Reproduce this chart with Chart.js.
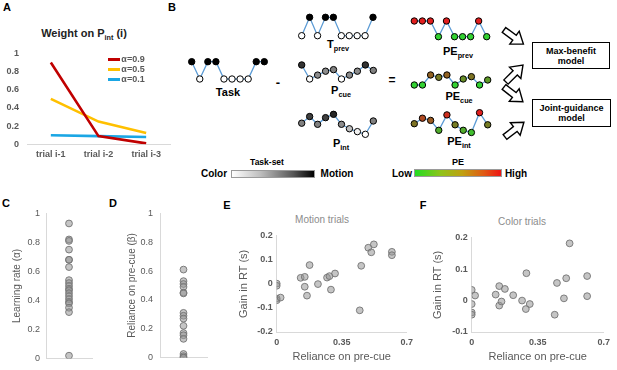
<!DOCTYPE html>
<html lang="en">
<head>
<meta charset="UTF-8">
<title>Pre-cue reliance figure</title>
<script src="https://cdn.jsdelivr.net/npm/chart.js"></script>
<style>
  body { margin: 0; background: #fff; }
  #fig { position: relative; width: 617px; height: 370px; overflow: hidden;
         font-family: "Liberation Sans", Arial, sans-serif; }
  #fig canvas, #fig svg { position: absolute; }
  .t { position: absolute; white-space: nowrap; line-height: 1; transform: translate(-50%, -50%); }
  .b { font-weight: bold; color: #000; }
  .s { font-size: 0.66em; position: relative; top: 0.35em; }
  .g { color: #595959; }
  .bar { position: absolute; height: 8px; box-sizing: border-box; border: 1px solid #9a9a9a; }
  .box { position: absolute; box-sizing: border-box; border: 1.6px solid #000; font-weight: bold;
         font-size: 9px; line-height: 10px; text-align: center; display: flex; align-items: center;
         justify-content: center; }
  .key { position: absolute; width: 12px; height: 2.6px; }
</style>
</head>
<body>
<div id="fig">
  <!-- panel letters -->
  <div class="t b" style="left:7px;top:7px;font-size:11px">A</div>
  <div class="t b" style="left:172px;top:7px;font-size:11px">B</div>
  <div class="t b" style="left:6px;top:203px;font-size:11px">C</div>
  <div class="t b" style="left:113px;top:203px;font-size:11px">D</div>
  <div class="t b" style="left:227px;top:205px;font-size:11px">E</div>
  <div class="t b" style="left:423px;top:205px;font-size:11px">F</div>

  <!-- A -->
  <div class="t b" style="left:84px;top:33px;font-size:11px;color:#222">Weight on P<span class="s">int</span> (i)</div>

  <!-- B labels -->
  <div class="t b" style="left:228px;top:92px;font-size:11px">Task</div>
  <div class="t b" style="left:278px;top:82px;font-size:13px">-</div>
  <div class="t b" style="left:338px;top:44px;font-size:11px">T<span class="s">prev</span></div>
  <div class="t b" style="left:341px;top:90px;font-size:11px">P<span class="s">cue</span></div>
  <div class="t b" style="left:341px;top:143px;font-size:11px">P<span class="s">int</span></div>
  <div class="t b" style="left:392px;top:80px;font-size:12px">=</div>
  <div class="t b" style="left:458px;top:51px;font-size:11px">PE<span class="s">prev</span></div>
  <div class="t b" style="left:459px;top:96px;font-size:11px">PE<span class="s">cue</span></div>
  <div class="t b" style="left:459px;top:141px;font-size:11px">PE<span class="s">int</span></div>

  <div class="t b" style="left:267px;top:162px;font-size:8.5px">Task-set</div>
  <div class="t b" style="left:214px;top:174px;font-size:10px">Color</div>
  <div class="bar" style="left:231px;top:170px;width:84px;background:linear-gradient(to right,#fff,#bdbdbd 35%,#555 75%,#000)"></div>
  <div class="t b" style="left:337px;top:174px;font-size:10px">Motion</div>

  <div class="t b" style="left:458px;top:162px;font-size:9px">PE</div>
  <div class="t b" style="left:402px;top:174px;font-size:10px">Low</div>
  <div class="bar" style="left:414px;top:169px;width:88px;background:linear-gradient(to right,#22dd22,#8fc31a 30%,#c0a010 55%,#e05a14 80%,#ee1414)"></div>
  <div class="t b" style="left:516px;top:174px;font-size:10px">High</div>

  <div class="box" style="left:532px;top:42px;width:78px;height:27px">Max-benefit<br>model</div>
  <div class="box" style="left:532px;top:99px;width:79px;height:28px">Joint-guidance<br>model</div>

  <svg width="617" height="370" style="left:0;top:0">
    <defs><polygon id="arr" points="0,-3 13,-3 13,-8 24,0 13,8 13,3 0,3"/></defs>
    <g fill="#fff" stroke="#000" stroke-width="1.4">
      <use href="#arr" transform="translate(504,30) rotate(36)"/>
      <use href="#arr" transform="translate(506,82) rotate(-45)"/>
      <use href="#arr" transform="translate(504,87) rotate(38)"/>
      <use href="#arr" transform="translate(505,137) rotate(-38)"/>
    </g>
  </svg>

  <!-- E / F titles -->
  <div class="t" style="left:322px;top:220px;font-size:10px;color:#8c8c8c">Motion trials</div>
  <div class="t" style="left:522px;top:222px;font-size:10px;color:#8c8c8c">Color trials</div>
</div>

<script>
// ---- panel A: weight on P_int by trial lag ----
const trialLabels = ['trial i-1', 'trial i-2', 'trial i-3'];
const alphaLabels = ['α=0.9', 'α=0.5', 'α=0.1'];
const weightA09 = [0.9, 0.09, 0.01];
const weightA05 = [0.5, 0.25, 0.125];
const weightA01 = [0.1, 0.09, 0.08];
const weightTicks = [0, 0.2, 0.4, 0.6, 0.8, 1];

// ---- panel B: bead sequences (height = value) ----
const taskSeq   = [1, 0, 1, 1, 0, 0, 0, 0, 1, 1];
const tPrevSeq  = [0, 1, 0, 1, 1, 0, 0, 0, 0, 1];
const pCueSeq   = [0.9, 0, 0.25, 0.5, 0.6, 0, 0.25, 0.5, 0.9, 0.55];
const pCueShade = [0.8, 0, 0.45, 0.45, 0.5, 0, 0.45, 0.45, 0.8, 0.5];
const pIntSeq   = [0.5, 0.8, 0.45, 0.75, 0.9, 0.45, 0.25, 0.12, 0, 0.6];
const pIntShade = [0.5, 0.75, 0.5, 0.75, 0.85, 0.45, 0.25, 0.05, 0, 0.5];
const pePrevSeq = [1, 1, 1, 0, 1, 0, 0, 0, 1, 0];
const peCueSeq  = [0, 0, 0.6, 0.46, 0.6, 0, 0.36, 0.5, 0, 0.3];
const peIntSeq  = [0.5, 0.75, 0.65, 0.2, 0.9, 0.45, 0.2, 0.1, 1, 0.45];

// ---- panels C, D: fitted parameters per subject ----
const learningRate = [0.93, 0.82, 0.81, 0.75, 0.68, 0.68, 0.63, 0.54, 0.52, 0.5, 0.48,
                      0.47, 0.45, 0.43, 0.41, 0.39, 0.38, 0.35, 0.32, 0.02];
const preCueReliance = [0.61, 0.53, 0.51, 0.49, 0.45, 0.445, 0.31, 0.29, 0.27, 0.22,
                        0.17, 0.155, 0.13, 0.025, 0.01, 0, 0];
const unitTicks = [0, 0.2, 0.4, 0.6, 0.8, 1];

// ---- panels E, F: RT gain vs reliance on pre-cue ----
const motionX = [0, 0, 0, 0, 0.021, 0.129, 0.151, 0.151, 0.163, 0.177, 0.222, 0.271,
                 0.284, 0.292, 0.314, 0.455, 0.447, 0.493, 0.509, 0.523, 0.62, 0.62];
const motionGain = [0.001, -0.008, -0.061, -0.068, -0.057, 0.025, 0.029, -0.012, -0.049,
                    0.078, -0.001, 0.026, 0.032, -0.024, 0.043, 0.075, -0.11, 0.15, 0.131,
                    0.164, 0.133, 0.119];
const colorX = [0, 0, 0, 0, 0.018, 0.127, 0.146, 0.146, 0.158, 0.176, 0.22, 0.267,
                0.287, 0.29, 0.308, 0.44, 0.452, 0.489, 0.501, 0.519, 0.612, 0.612];
const colorGain = [0.034, -0.011, -0.038, -0.045, 0.016, 0.019, 0.046, -0.016, -0.003,
                   0.037, 0.017, 0, -0.027, 0.087, -0.011, -0.045, 0.056, 0.007, 0.071,
                   0.182, 0.078, 0.014];
const relianceTicks = [0, 0.35, 0.7];
const motionGainTicks = [-0.2, -0.1, 0, 0.1, 0.2];
const colorGainTicks = [-0.1, 0, 0.1, 0.2];

// ---------------------------------------------------------------
Chart.defaults.font.family = '"Liberation Sans", Arial, sans-serif';
const fig = document.getElementById('fig');
const axisGrey = '#d9d9d9';
const tickGrey = '#595959';
const plainLabel = v => String(v);

function makeCanvas(left, top, width, height) {
  const c = document.createElement('canvas');
  c.width = width;
  c.height = height;
  c.style.left = left + 'px';
  c.style.top = top + 'px';
  fig.appendChild(c);
  return c;
}

function useTicks(values) {
  return scale => { scale.ticks = values.map(v => ({ value: v })); };
}

const base = {
  responsive: false,
  animation: false,
  events: [],
  plugins: { legend: { display: false }, tooltip: { enabled: false } }
};

// panel A
const alphaColors = ['#c00000', '#ffc000', '#1aa6e4'];
const weights = [weightA09, weightA05, weightA01];
new Chart(makeCanvas(0, 40, 178, 130), {
  type: 'line',
  data: {
    labels: trialLabels,
    datasets: alphaLabels.map((lab, i) => ({
      label: lab, data: weights[i], borderColor: alphaColors[i],
      borderWidth: 2.6, pointRadius: 0, tension: 0
    }))
  },
  options: {
    ...base,
    layout: { padding: { top: 13.3, right: 8, left: 0, bottom: 0 } },
    scales: {
      x: {
        offset: true,
        grid: { display: false, drawTicks: false },
        border: { color: axisGrey },
        ticks: { font: { size: 9, weight: 'bold' }, color: tickGrey, padding: 5, maxRotation: 0, autoSkip: false },
        afterFit: s => { s.height = 25.7; }
      },
      y: {
        min: 0, max: 1,
        grid: { display: false, drawTicks: false },
        border: { display: false },
        afterBuildTicks: useTicks(weightTicks),
        ticks: { font: { size: 9, weight: 'bold' }, color: tickGrey, padding: 8, callback: plainLabel },
        afterFit: s => { s.width = 27; }
      }
    }
  }
});

// legend for A
alphaLabels.forEach((lab, i) => {
  const y = 59.3 + i * 10;
  const k = document.createElement('div');
  k.className = 'key';
  k.style.left = '108px';
  k.style.top = (y - 1.3) + 'px';
  k.style.background = alphaColors[i];
  fig.appendChild(k);
  const t = document.createElement('div');
  t.className = 't g';
  t.style.cssText = `left:${122 + 11}px;top:${y}px;font-size:9px;font-weight:bold`;
  t.textContent = lab;
  fig.appendChild(t);
});

// panel B bead sequences
function grayShade(v) {
  const g = Math.round(255 * (1 - v));
  return `rgb(${g},${g},${g})`;
}
function peShade(v) {
  const lo = [50, 210, 50], mid = [125, 115, 35], hi = [225, 30, 30];
  const [a, b, t] = v < 0.5 ? [lo, mid, v / 0.5] : [mid, hi, (v - 0.5) / 0.5];
  return `rgb(${a.map((c, i) => Math.round(c + (b[i] - c) * t)).join(',')})`;
}

function beadChart(values, shades, colormap, g) {
  const pad = 5;
  const left = Math.floor(g.x0 - pad), top = Math.floor(g.y1 - pad);
  const right = Math.ceil(g.x1 + pad), bottom = Math.ceil(g.y0 + pad);
  new Chart(makeCanvas(left, top, right - left, bottom - top), {
    type: 'line',
    data: {
      labels: values.map((_, i) => i + 1),
      datasets: [{
        data: values, borderColor: '#5b9bd5', borderWidth: 1.3, tension: 0, clip: false,
        pointRadius: 3.2, pointBorderWidth: 1, pointBorderColor: '#000',
        pointBackgroundColor: shades.map(colormap)
      }]
    },
    options: {
      ...base,
      layout: { padding: { left: g.x0 - left, right: right - g.x1, top: g.y1 - top, bottom: bottom - g.y0 } },
      scales: {
        x: { display: false, offset: false },
        y: { display: false, min: 0, max: 1 }
      }
    }
  });
}

beadChart(taskSeq, taskSeq, grayShade, { x0: 191.7, x1: 264.3, y1: 61.7, y0: 79 });
beadChart(tPrevSeq, tPrevSeq, grayShade, { x0: 301.7, x1: 373, y1: 17.3, y0: 35.7 });
beadChart(pCueSeq, pCueShade, grayShade, { x0: 301.7, x1: 373.3, y1: 63.4, y0: 79 });
beadChart(pIntSeq, pIntShade, grayShade, { x0: 301.7, x1: 373.3, y1: 112.1, y0: 134.3 });
beadChart(pePrevSeq, pePrevSeq, peShade, { x0: 414.3, x1: 486.7, y1: 21, y0: 36.7 });
beadChart(peCueSeq, peCueSeq, peShade, { x0: 414.3, x1: 487.7, y1: 68.3, y0: 85 });
beadChart(peIntSeq, peIntSeq, peShade, { x0: 414.3, x1: 487.7, y1: 112.7, y0: 134.7 });

// scatter helpers
const dotStyle = {
  pointRadius: 3.4, pointBorderWidth: 1,
  pointBackgroundColor: 'rgba(150,150,150,0.55)', pointBorderColor: 'rgba(115,115,115,0.9)'
};

function stripChart(canvas, values, title, o) {
  new Chart(canvas, {
    type: 'scatter',
    data: { datasets: [{ data: values.map(v => ({ x: 0, y: v })), ...dotStyle }] },
    options: {
      ...base,
      layout: { padding: { top: o.padTop, right: o.padRight, left: 0, bottom: 0 } },
      scales: {
        x: {
          min: -1, max: 1,
          grid: { display: false, drawTicks: false },
          border: { color: axisGrey },
          ticks: { display: false },
          afterFit: s => { s.height = o.xHeight; }
        },
        y: {
          min: 0, max: 1,
          grid: { display: false, drawTicks: false },
          border: { color: axisGrey },
          afterBuildTicks: useTicks(unitTicks),
          ticks: { font: { size: 9 }, color: tickGrey, padding: o.tickPad, callback: plainLabel },
          title: { display: true, text: title, color: tickGrey, font: { size: 10 }, padding: { top: o.titlePad, bottom: 0 } },
          afterFit: s => { s.width = o.yWidth; }
        }
      }
    }
  });
}

function gainChart(canvas, xs, ys, gainTicks, o) {
  new Chart(canvas, {
    type: 'scatter',
    data: { datasets: [{ data: xs.map((x, i) => ({ x, y: ys[i] })), ...dotStyle }] },
    options: {
      ...base,
      layout: { padding: { top: o.padTop, right: o.padRight, left: 0, bottom: 0 } },
      scales: {
        x: {
          min: 0, max: 0.7,
          grid: { display: false, drawTicks: false },
          border: { color: axisGrey },
          afterBuildTicks: useTicks(relianceTicks),
          ticks: { font: { size: 9, weight: 'bold' }, color: tickGrey, padding: 5, maxRotation: 0, callback: plainLabel },
          title: { display: true, text: 'Reliance on pre-cue', color: tickGrey, font: { size: 11 }, padding: { top: 0, bottom: 6 } },
          afterFit: s => { s.height = o.xHeight; }
        },
        y: {
          min: gainTicks[0], max: gainTicks[gainTicks.length - 1],
          grid: { display: false, drawTicks: false },
          border: { color: axisGrey },
          afterBuildTicks: useTicks(gainTicks),
          ticks: { font: { size: 9, weight: 'bold' }, color: tickGrey, padding: 4, callback: plainLabel },
          title: { display: true, text: 'Gain in RT (s)', color: tickGrey, font: { size: 11 }, padding: { top: o.titlePad, bottom: 0 } },
          afterFit: s => { s.width = o.yWidth; }
        }
      }
    }
  });
}

stripChart(makeCanvas(0, 200, 100, 170), learningRate, 'Learning rate (α)',
  { yWidth: 46, titlePad: 11, tickPad: 6, padTop: 13.3, padRight: 8, xHeight: 10 });
stripChart(makeCanvas(112, 200, 103, 170), preCueReliance, 'Reliance on pre-cue (β)',
  { yWidth: 48, titlePad: 14, tickPad: 7, padTop: 13.3, padRight: 8, xHeight: 10.5 });

gainChart(makeCanvas(228, 200, 190, 170), motionX, motionGain, motionGainTicks,
  { yWidth: 48.7, titlePad: 9, padTop: 35.7, padRight: 8.5, xHeight: 38 });
gainChart(makeCanvas(425, 200, 190, 170), colorX, colorGain, colorGainTicks,
  { yWidth: 46.7, titlePad: 6, padTop: 37.7, padRight: 9, xHeight: 38 });
</script>
</body>
</html>
